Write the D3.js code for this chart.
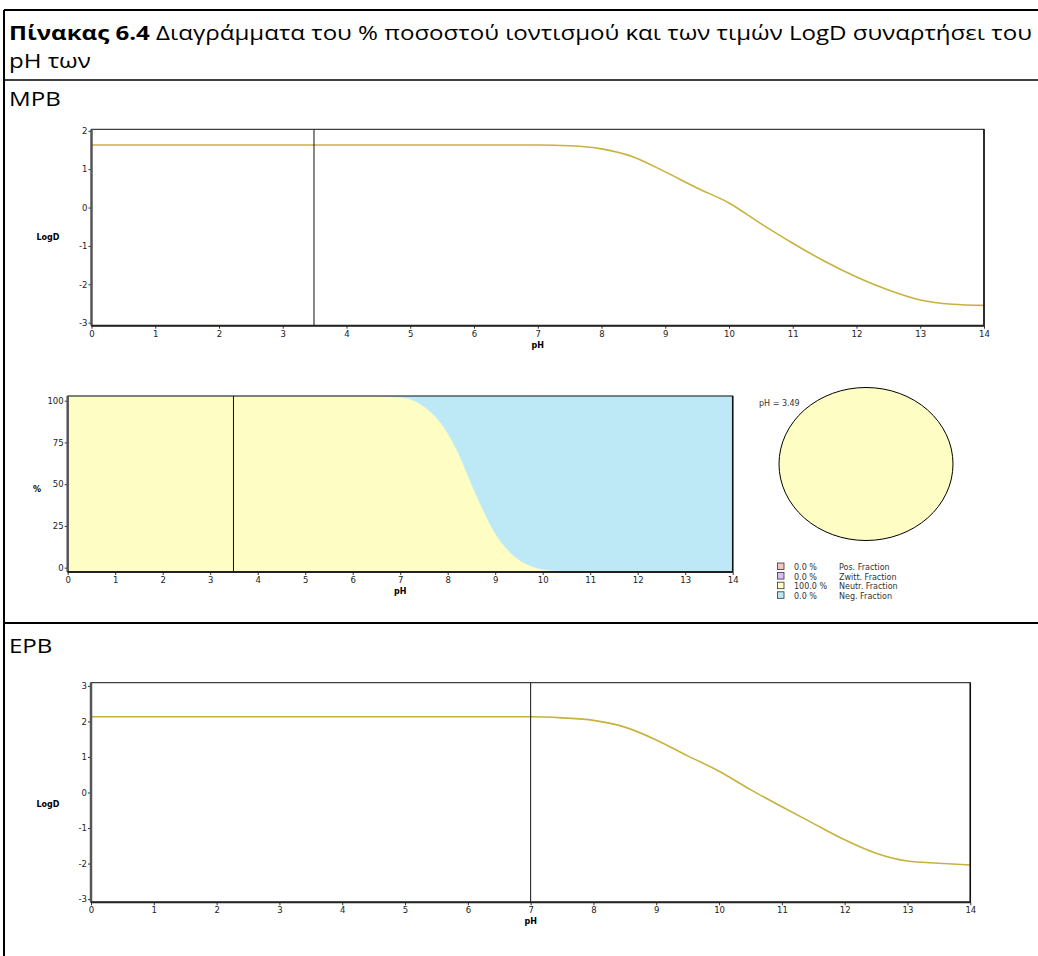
<!DOCTYPE html>
<html><head><meta charset="utf-8">
<script src="https://cdn.jsdelivr.net/npm/d3@7/dist/d3.min.js"></script>
<style>body{margin:0;background:#fff}svg{display:block}</style>
</head><body>
<svg id="c" width="1038" height="956"></svg>
<script>
// ---------- DATA ----------
const xTicks = [0,1,2,3,4,5,6,7,8,9,10,11,12,13,14];
const logDTicksMPB = [2,1,0,-1,-2,-3];
const logDTicksEPB = [3,2,1,0,-1,-2,-3];
const pctTicks = [100,75,50,25,0];

const phLogD = [0,1,2,3,4,5,6,7,7.5,8,8.5,9,9.5,10,10.5,11,11.5,12,12.5,13,13.5,14];
const mpbLogD = [1.63,1.63,1.63,1.63,1.63,1.63,1.63,1.63,1.61,1.53,1.32,0.93,0.51,0.12,-0.42,-0.93,-1.40,-1.81,-2.15,-2.41,-2.52,-2.55];
const epbLogD = [2.13,2.13,2.13,2.13,2.13,2.13,2.13,2.13,2.10,2.03,1.84,1.48,1.03,0.60,0.08,-0.40,-0.87,-1.33,-1.71,-1.93,-1.99,-2.04];

const phPct = [0,1,2,3,4,5,6,6.5,7,7.25,7.5,7.75,8,8.25,8.5,8.75,9,9.25,9.5,9.75,10,10.5,11,12,13,14];
const neutrPct = [100,100,100,100,100,100,100,99.8,99.3,97.8,94,88,79,66,50,35,22,13,7,3.5,1.5,0.4,0,0,0,0];
const negPct   = [0,0,0,0,0,0,0,0.2,0.7,2.2,6,12,21,34,50,65,78,87,93,96.5,98.5,99.6,100,100,100,100];

const mpbSelPH = 3.49;
const epbSelPH = 7;
const fractionNames = ["Pos. Fraction","Zwitt. Fraction","Neutr. Fraction","Neg. Fraction"];
const fractionValues = [0.0, 0.0, 100.0, 0.0];
const fractionColors = ["#f7c4c4","#dcbcf2","#fdfdc4","#bde9f7"];

const titleBold = "Πίνακας 6.4";
const titleRest = " Διαγράμματα του % ποσοστού ιοντισμού και των τιμών LogD συναρτήσει του";
const titleLine2 = "pH των";
const section1 = "MPB";
const section2 = "EPB";

// ---------- DRAW ----------
const svg = d3.select("#c");
const LINE = "#c7b23e";
const TF = "DejaVu Sans, Verdana, sans-serif";
const FS = 8.5;
const fmt = d => String(d);

// table borders
svg.append("line").attr("x1",4).attr("x2",1038).attr("y1",10).attr("y2",10).attr("stroke","#000").attr("stroke-width",2);
svg.append("line").attr("x1",4).attr("x2",4).attr("y1",10).attr("y2",956).attr("stroke","#000").attr("stroke-width",2);
svg.append("line").attr("x1",4).attr("x2",1038).attr("y1",80).attr("y2",80).attr("stroke","#000").attr("stroke-width",1.5);
svg.append("line").attr("x1",4).attr("x2",1038).attr("y1",623).attr("y2",623).attr("stroke","#000").attr("stroke-width",2);

// title
const TFF = "Open Sans, Noto Sans, sans-serif";
const t1 = svg.append("text").attr("x",9).attr("y",40).attr("font-family",TFF).attr("font-size",20).attr("fill","#000");
t1.append("tspan").attr("font-weight","bold").text(titleBold);
t1.append("tspan").text(titleRest);
const w1 = t1.node().getComputedTextLength();
const target = 1033-9;
const sx = target/w1;
const tr = `translate(9,0) scale(${sx},1) translate(-9,0)`;
t1.attr("transform",tr);
svg.append("text").attr("x",9).attr("y",68).attr("font-family",TFF).attr("font-size",20).attr("transform",tr).text(titleLine2);
svg.append("text").attr("x",9).attr("y",106).attr("font-family",TFF).attr("font-size",20).attr("transform",tr).text(section1);
svg.append("text").attr("x",9).attr("y",653).attr("font-family",TFF).attr("font-size",20).attr("transform",tr).text(section2);

function frameAxes(g, x, y, yTicks, yLabel, labelX, labelY){
  const [x0,x1] = x.range(); const [yb,yt] = y.range();
  g.append("rect").attr("x",x0).attr("y",yt).attr("width",x1-x0).attr("height",yb-yt)
    .attr("fill","none").attr("stroke","#111").attr("stroke-width",1);
  g.append("line").attr("x1",x1).attr("x2",x1).attr("y1",yt).attr("y2",yb).attr("stroke","#111").attr("stroke-width",1.5);
  const ya = g.append("g").attr("transform",`translate(${x0},0)`)
    .call(d3.axisLeft(y).tickValues(yTicks).tickSize(3).tickPadding(1).tickFormat(fmt));
  ya.select(".domain").remove();
  ya.selectAll("text").attr("font-family",TF).attr("font-size",FS).attr("fill","#222");
  ya.selectAll("line").attr("stroke","#333");
  g.append("line").attr("x1",x0).attr("x2",x0).attr("y1",yt).attr("y2",yb).attr("stroke","#555").attr("stroke-width",2.5);
  const xa = g.append("g").attr("transform",`translate(0,${yb})`)
    .call(d3.axisBottom(x).tickValues(xTicks).tickSize(3).tickPadding(2).tickFormat(fmt));
  xa.select(".domain").remove();
  xa.selectAll("text").attr("font-family",TF).attr("font-size",FS).attr("fill","#222");
  xa.selectAll("line").attr("stroke","#333");
  g.append("line").attr("x1",x0).attr("x2",x1).attr("y1",yb).attr("y2",yb).attr("stroke","#222").attr("stroke-width",2);
  g.append("text").attr("x",(x0+x1)/2).attr("y",yb+22).attr("text-anchor","middle")
    .attr("font-family",TF).attr("font-size",8).attr("font-weight","bold").text("pH");
  g.append("text").attr("x",labelX).attr("y",labelY).attr("text-anchor","middle")
    .attr("font-family",TF).attr("font-size",8).attr("font-weight","bold").text(yLabel);
}

function logDChart(xr, yr, ydom, ticks, ph, vals, sel, labelY){
  const g = svg.append("g");
  const x = d3.scaleLinear().domain([0,14]).range(xr);
  const y = d3.scaleLinear().domain(ydom).range(yr);
  const line = d3.line().x((d,i)=>x(ph[i])).y(d=>y(d)).curve(d3.curveMonotoneX);
  g.append("path").datum(vals).attr("d",line).attr("fill","none").attr("stroke",LINE).attr("stroke-width",1.6);
  g.append("line").attr("x1",x(sel)).attr("x2",x(sel)).attr("y1",yr[1]).attr("y2",yr[0]).attr("stroke","#111").attr("stroke-width",1);
  frameAxes(g, x, y, ticks, "LogD", 48, labelY);
}

logDChart([91.5,984],[325.7,129.3],[-3.08,2.04],logDTicksMPB,phLogD,mpbLogD,mpbSelPH,240);
logDChart([91,970.3],[902.3,682.7],[-3.09,3.09],logDTicksEPB,phLogD,epbLogD,epbSelPH,807);

// percentage stacked area chart
(function(){
  const g = svg.append("g");
  const x = d3.scaleLinear().domain([0,14]).range([67.7,732.7]);
  const yAxisS = d3.scaleLinear().domain([-2.6,102.8]).range([572,396]);
  const yFill = d3.scaleLinear().domain([0,100]).range([572,396]);
  const rows = phPct.map((p,i)=>({ph:p, neutr:neutrPct[i], neg:negPct[i]}));
  const stack = d3.stack().keys(["neutr","neg"])(rows);
  const area = d3.area().x(d=>x(d.data.ph)).y0(d=>yFill(d[0])).y1(d=>yFill(d[1])).curve(d3.curveMonotoneX);
  const cols = {neutr:"#fdfdc4", neg:"#bde9f7"};
  g.selectAll("path.a").data(stack).enter().append("path").attr("class","a")
    .attr("d",area).attr("fill",d=>cols[d.key]).attr("stroke",d=>cols[d.key]).attr("stroke-width",0.5);
  g.append("line").attr("x1",x(mpbSelPH)).attr("x2",x(mpbSelPH)).attr("y1",396).attr("y2",572).attr("stroke","#111").attr("stroke-width",1);
  frameAxes(g, x, yAxisS, pctTicks, "%", 37, 492);
})();

// pie at selected pH
(function(){
  const g = svg.append("g").attr("transform","translate(866,464)");
  const pie = d3.pie().sort(null).value(d=>d);
  const arcs = pie(fractionValues).filter(a=>a.endAngle>a.startAngle);
  const arc = d3.arc().innerRadius(0).outerRadius(1);
  g.append("g").attr("transform","scale(87,76.5)").selectAll("path").data(arcs).enter().append("path")
    .attr("d",arc).attr("fill",d=>fractionColors[d.index]).attr("stroke","#000")
    .attr("stroke-width",1).attr("vector-effect","non-scaling-stroke");
  svg.append("text").attr("x",759).attr("y",406).attr("font-family",TF).attr("font-size",8).attr("fill","#333").text("pH = "+mpbSelPH.toFixed(2));
  const lg = svg.append("g");
  fractionNames.forEach((n,i)=>{
    const yy = 563 + i*9.6;
    lg.append("rect").attr("x",777.5).attr("y",yy).attr("width",6.5).attr("height",6.5)
      .attr("fill",fractionColors[i]).attr("stroke","#333").attr("stroke-width",0.8);
    lg.append("text").attr("x",794).attr("y",yy+7).attr("font-family",TF).attr("font-size",8).attr("fill","#333")
      .text(fractionValues[i].toFixed(1)+" %");
    lg.append("text").attr("x",839).attr("y",yy+7).attr("font-family",TF).attr("font-size",8).attr("fill","#333").text(n);
  });
})();
</script>
</body></html>
